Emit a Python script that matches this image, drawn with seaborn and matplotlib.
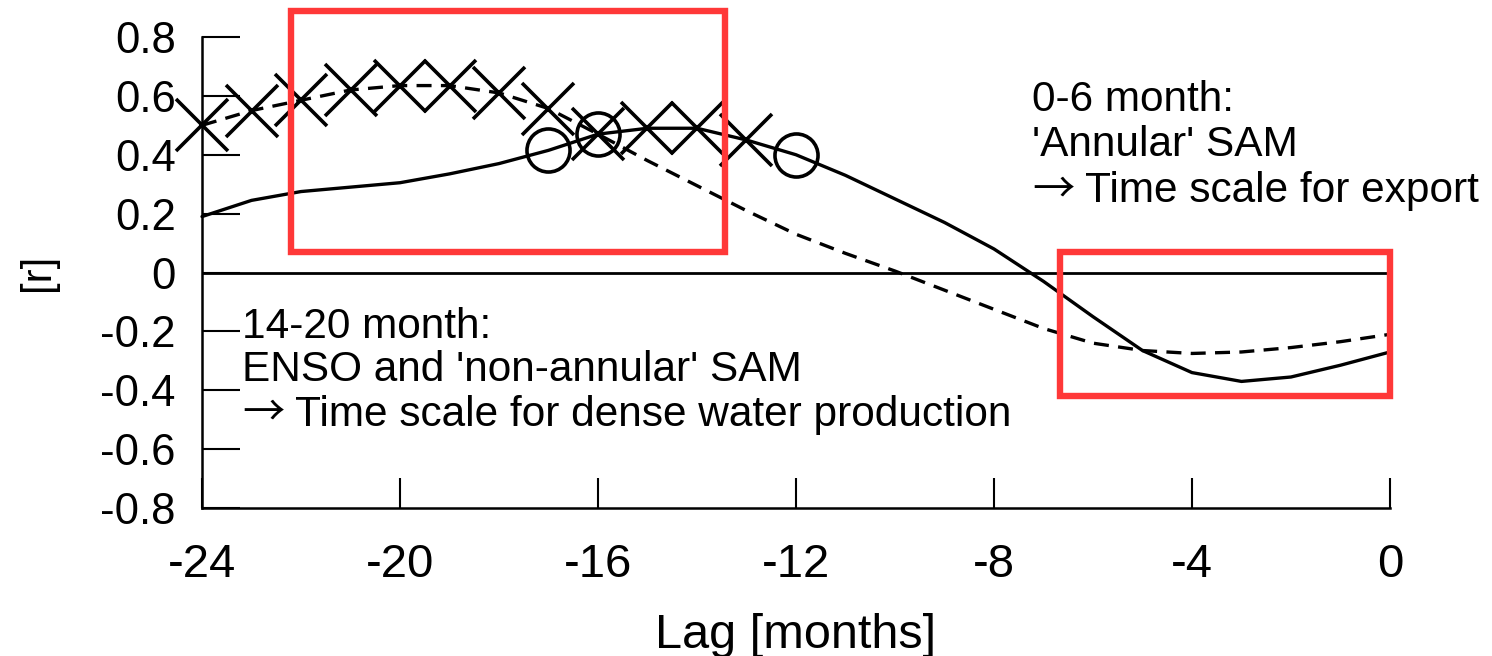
import matplotlib
matplotlib.use("Agg")
import matplotlib.pyplot as plt
from matplotlib.patches import Rectangle
import seaborn as sns
import pandas as pd

# ---- data ----
lags = [-24, -23, -22, -21, -20, -19, -18, -17, -16, -15, -14, -13,
        -12, -11, -10, -9, -8, -7, -6, -5, -4, -3, -2, -1, 0]
r_solid = [0.19, 0.245, 0.275, 0.29, 0.305, 0.335, 0.37, 0.415, 0.47, 0.49, 0.49, 0.45,
           0.40, 0.33, 0.25, 0.17, 0.08, -0.03, -0.15, -0.265, -0.34, -0.37, -0.355, -0.315, -0.27]
r_dashed = [0.50, 0.55, 0.585, 0.62, 0.635, 0.635, 0.61, 0.557, 0.47, 0.38, 0.295, 0.21,
            0.13, 0.065, 0.005, -0.06, -0.125, -0.19, -0.24, -0.265, -0.275, -0.27, -0.255, -0.235, -0.21]
dashed_x_lags = [-24, -23, -22, -21, -20, -19, -18, -17]
solid_x_lags = [-16, -15, -14, -13]
solid_circle_lags = [-17, -16, -12]
xticks = [-24, -20, -16, -12, -8, -4, 0]
yticks = [-0.8, -0.6, -0.4, -0.2, 0, 0.2, 0.4, 0.6, 0.8]
ytick_labels = ["-0.8", "-0.6", "-0.4", "-0.2", "0", "0.2", "0.4", "0.6", "0.8"]
note_top_lines = ["0-6 month:", "'Annular' SAM", "Time scale for export"]
note_bottom_lines = ["14-20 month:", "ENSO and 'non-annular' SAM", "Time scale for dense water production"]
arrow = "\u2192"

sns.set_style("white")
plt.rcParams['font.family'] = ['Liberation Sans', 'DejaVu Sans']
for k in ["text.color", "axes.labelcolor", "xtick.color", "ytick.color"]:
    plt.rcParams[k] = "black"

df = pd.DataFrame({"lag": lags, "solid": r_solid, "dashed": r_dashed})
sel = lambda lst, col: df[df["lag"].isin(lst)][["lag", col]]

fig = plt.figure(figsize=(14.92, 6.56), dpi=100)
ax = fig.add_axes([0.1354, 0.2256, 0.7962, 0.718])

LW = 2.4
sns.lineplot(data=df, x="lag", y="solid", color="black", lw=LW, ax=ax, clip_on=False)
sns.lineplot(data=df, x="lag", y="dashed", color="black", lw=LW, ax=ax, clip_on=False,
             dashes=False, linestyle=(0, (4.5, 2.8)))
ax.axhline(0, color="black", lw=2.0, zorder=1)

MEW = 2.6
d = sel(dashed_x_lags, "dashed")
ax.plot(d["lag"], d["dashed"], ls="none", marker="x", ms=37, mew=MEW, color="black", clip_on=False)
s = sel(solid_x_lags, "solid")
ax.plot(s["lag"], s["solid"], ls="none", marker="x", ms=37, mew=MEW, color="black", clip_on=False)
c = sel(solid_circle_lags, "solid")
ax.plot(c["lag"], c["solid"], ls="none", marker="o", ms=31, mew=MEW, mfc="none", mec="black", clip_on=False)

ax.set_xlim(-24, 0)
ax.set_ylim(-0.8, 0.8)
ax.set_xticks(xticks)
ax.set_xticklabels([str(t) for t in xticks])
ax.set_yticks(yticks)
ax.set_yticklabels(ytick_labels)
for sp in ["top", "right"]:
    ax.spines[sp].set_visible(False)
for sp in ["left", "bottom"]:
    ax.spines[sp].set_linewidth(1.8)
    ax.spines[sp].set_color("black")
ax.tick_params(axis="y", left=True, direction="in", length=27, width=1.5, pad=19, labelsize=31.5)
ax.tick_params(axis="x", bottom=True, direction="in", length=21.5, width=1.5, pad=25, labelsize=34)
ax.set_xlabel("Lag [months]", fontsize=35, labelpad=19)
ax.set_ylabel("[r]", fontsize=30, labelpad=30)

FS = 30.5
def note(x0, baselines, lines):
    for i, (yb, txt) in enumerate(zip(baselines, lines)):
        if i == len(lines) - 1:
            ax.text(x0, yb, arrow, fontsize=FS, va="baseline", ha="left",
                    family=['Noto Sans CJK JP', 'DejaVu Sans'])
            ax.text(x0 + 1.07, yb, txt, fontsize=FS, va="baseline", ha="left")
        else:
            ax.text(x0, yb, txt, fontsize=FS, va="baseline", ha="left")

note(-7.23, [0.550, 0.397, 0.238], note_top_lines)
note(-23.19, [-0.221, -0.370, -0.520], note_bottom_lines)

red = "#ff3838"
ax.add_patch(Rectangle((-22.2, 0.068), 8.77, 0.82, fill=False, ec=red, lw=4.6, clip_on=False, zorder=5))
ax.add_patch(Rectangle((-6.67, -0.418), 6.67, 0.486, fill=False, ec=red, lw=4.6, clip_on=False, zorder=5))

fig.savefig("out.png", dpi=100, facecolor="white")
